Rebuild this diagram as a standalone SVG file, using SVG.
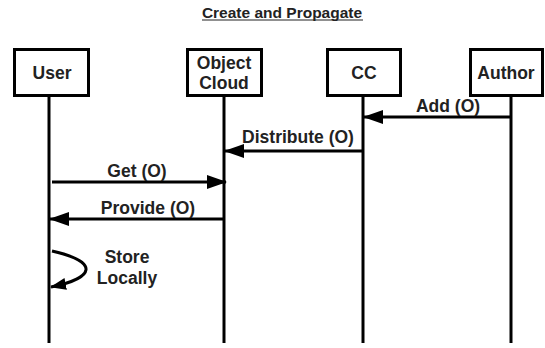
<svg xmlns="http://www.w3.org/2000/svg" width="545" height="348" viewBox="0 0 545 348">
<defs>
<marker id="ah" markerWidth="20" markerHeight="14" refX="19" refY="7" orient="auto" markerUnits="userSpaceOnUse">
<path d="M0,0 L20,7 L0,14 Z" fill="#000"/>
</marker>
<marker id="ah2" markerWidth="16" markerHeight="12" refX="15" refY="6" orient="auto" markerUnits="userSpaceOnUse">
<path d="M0,0 L16,6 L0,12 Z" fill="#000"/>
</marker>
<style>
text{font-family:"Liberation Sans",Arial,sans-serif;font-weight:bold;font-size:17.5px;fill:#222;text-anchor:middle}
.title{font-size:15.5px}
.box{fill:#fff;stroke:#000;stroke-width:3}
.life{stroke:#000;stroke-width:3}
.msg{stroke:#000;stroke-width:3;fill:none}
</style>
</defs>
<rect width="545" height="348" fill="#fff"/>
<g id="title">
<text class="title" x="282" y="18">Create and Propagate</text>
<line x1="202" y1="20" x2="363" y2="20" stroke="#222" stroke-width="1.2"/>
</g>
<g id="user">
<line class="life" x1="49" y1="96" x2="49" y2="343"/>
<rect class="box" x="14.5" y="49.5" width="74" height="46"/>
<text x="52" y="79">User</text>
</g>
<g id="objectcloud">
<line class="life" x1="224" y1="96" x2="224" y2="343"/>
<rect class="box" x="187.5" y="49.5" width="74" height="46"/>
<text x="224" y="69">Object</text>
<text x="224" y="88.5">Cloud</text>
</g>
<g id="cc">
<line class="life" x1="363" y1="96" x2="363" y2="343"/>
<rect class="box" x="327.5" y="49.5" width="73" height="46"/>
<text x="364" y="79">CC</text>
</g>
<g id="author">
<line class="life" x1="511" y1="96" x2="511" y2="343"/>
<rect class="box" x="470.5" y="49.5" width="72" height="46"/>
<text x="506" y="79">Author</text>
</g>
<g id="connectors">
<line class="msg" x1="511" y1="117" x2="364" y2="117" marker-end="url(#ah)"/>
<text x="448" y="112">Add (O)</text>
<line class="msg" x1="363" y1="151" x2="225" y2="151" marker-end="url(#ah)"/>
<text x="298" y="143">Distribute (O)</text>
<line class="msg" x1="52" y1="182" x2="226" y2="182" marker-end="url(#ah)"/>
<text x="137" y="177">Get (O)</text>
<line class="msg" x1="224" y1="219" x2="50" y2="219" marker-end="url(#ah)"/>
<text x="148" y="214">Provide (O)</text>
<path class="msg" d="M52,251 C100,262 95,278 51,287" marker-end="url(#ah2)"/>
<text x="127" y="263">Store</text>
<text x="127" y="284">Locally</text>
</g>
</svg>
